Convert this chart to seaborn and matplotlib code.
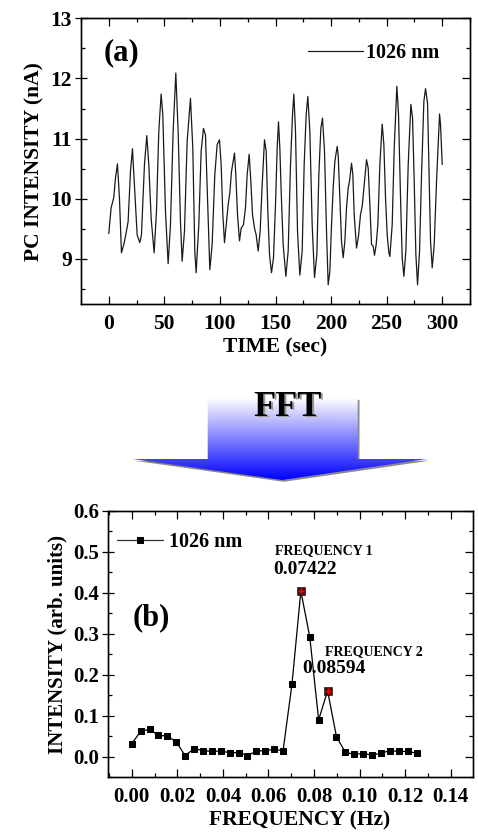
import numpy as np
import pandas as pd
import matplotlib
matplotlib.use("Agg")
import matplotlib.pyplot as plt
import seaborn as sns
from matplotlib.patches import Polygon
from matplotlib.ticker import MultipleLocator, FormatStrFormatter
from matplotlib.colors import LinearSegmentedColormap

# ---------------- data ----------------
time_s = [0.0, 2.1, 4.5, 6.0, 7.8, 9.6, 11.4, 13.5, 15.6, 17.4, 19.5, 21.3, 23.4, 25.5, 27.9,
          29.4, 32.1, 34.2, 36.0, 38.1, 40.8, 42.9, 45.0, 47.1, 48.6, 51.0, 53.4, 55.5, 57.9,
          60.3, 62.4, 64.5, 66.0, 68.1, 70.5, 73.5, 75.6, 77.4, 78.6, 81.0, 83.1, 85.2, 87.0,
          88.8, 90.9, 93.0, 95.4, 97.5, 99.6, 101.1, 102.6, 104.1, 105.9, 107.4, 108.9, 110.4,
          111.9, 113.1, 114.3, 115.8, 117.6, 119.1, 121.2, 123.0, 124.5, 126.3, 127.8, 129.3,
          131.1, 132.6, 134.4, 136.2, 138.0, 140.1, 141.6, 143.1, 144.6, 146.4, 148.2, 150.0,
          151.5, 152.7, 153.9, 155.1, 156.9, 159.3, 161.4, 163.5, 165.3, 166.5, 168.0, 169.8,
          171.9, 174.0, 175.8, 177.6, 179.1, 180.9, 183.0, 185.1, 187.2, 189.0, 190.8, 192.3,
          194.1, 195.9, 197.4, 198.9, 200.4, 201.9, 203.4, 205.5, 206.4, 207.9, 209.4, 210.9,
          212.4, 213.9, 215.4, 216.6, 218.4, 219.6, 220.8, 222.9, 224.7, 226.5, 228.0, 229.8,
          231.9, 233.4, 234.9, 236.4, 237.9, 239.1, 240.6, 242.1, 243.9, 246.0, 247.5, 249.0,
          250.5, 252.0, 252.9, 255.0, 256.8, 259.2, 260.7, 262.5, 264.0, 265.5, 267.3, 269.4,
          271.8, 273.3, 274.8, 276.3, 277.8, 279.6, 281.4, 283.5, 285.0, 286.8, 288.3, 289.5,
          291.0, 292.8, 294.9, 297.6, 298.5, 300.0]
pc_intensity = [9.42, 9.85, 10.02, 10.34, 10.58, 10.01, 9.10, 9.24, 9.43, 9.62, 10.45, 10.83,
                10.12, 9.40, 9.27, 9.40, 10.57, 11.05, 10.57, 9.68, 9.10, 9.79, 11.12, 11.74,
                11.40, 9.79, 8.92, 9.57, 11.12, 12.09, 11.12, 9.62, 8.96, 9.46, 10.95, 11.67,
                10.84, 9.13, 8.77, 9.57, 10.79, 11.17, 11.06, 10.01, 8.82, 9.24, 10.40, 10.90,
                10.98, 10.57, 9.74, 9.27, 9.62, 9.90, 10.10, 10.45, 10.62, 10.76, 10.40, 9.74,
                9.30, 9.51, 9.57, 9.85, 10.40, 10.74, 10.29, 9.74, 9.51, 9.40, 9.13, 9.46,
                10.23, 10.98, 10.79, 9.79, 9.07, 8.77, 9.02, 9.90, 10.84, 11.28, 10.84, 10.12,
                9.24, 8.71, 9.13, 10.57, 11.40, 11.74, 11.12, 9.46, 8.73, 9.13, 10.57, 11.40,
                11.70, 11.12, 9.57, 8.69, 9.07, 10.40, 11.17, 11.34, 10.79, 9.46, 8.57, 8.79,
                9.57, 10.18, 10.62, 10.87, 10.73, 10.01, 9.29, 9.02, 9.29, 9.85, 10.18, 10.29,
                10.59, 10.40, 9.74, 9.18, 9.38, 9.74, 9.87, 10.23, 10.65, 10.51, 9.90, 9.24,
                9.21, 9.06, 9.24, 9.57, 10.57, 11.24, 10.90, 10.01, 9.40, 9.10, 9.04, 9.57,
                10.84, 11.87, 11.40, 10.01, 9.02, 8.71, 9.13, 10.57, 11.57, 11.34, 10.29, 9.07,
                8.57, 9.13, 10.40, 11.62, 11.83, 11.59, 10.29, 9.29, 8.85, 9.24, 10.29, 11.41,
                11.23, 10.57]

freq_hz = [0.0, 0.00391, 0.00781, 0.01172, 0.01563, 0.01953, 0.02344, 0.02734, 0.03125,
           0.03516, 0.03906, 0.04297, 0.04688, 0.05078, 0.05469, 0.05859, 0.0625, 0.06641,
           0.07031, 0.07422, 0.07813, 0.08203, 0.08594, 0.08984, 0.09375, 0.09766, 0.10156,
           0.10547, 0.10938, 0.11328, 0.11719, 0.12109, 0.125]
fft_intensity = [0.032, 0.062, 0.067, 0.052, 0.051, 0.036, 0.003, 0.020, 0.015, 0.013, 0.014,
                 0.010, 0.010, 0.003, 0.014, 0.015, 0.018, 0.015, 0.177, 0.404, 0.292, 0.090,
                 0.161, 0.049, 0.011, 0.006, 0.008, 0.004, 0.009, 0.015, 0.013, 0.013, 0.009]
peak_freqs = [0.07422, 0.08594]
peak_vals = [0.404, 0.161]
peak_labels = ["0.07422", "0.08594"]
series_label = "1026 nm"

# ---------------- style ----------------
sns.set_style("ticks")
plt.rcParams["font.family"] = ["Liberation Serif", "DejaVu Serif"]
plt.rcParams["font.weight"] = "bold"
plt.rcParams["axes.labelweight"] = "bold"
plt.rcParams["axes.linewidth"] = 0.9
plt.rcParams["axes.edgecolor"] = "black"
plt.rcParams["text.color"] = "black"
plt.rcParams["axes.labelcolor"] = "black"
plt.rcParams["xtick.color"] = "black"
plt.rcParams["ytick.color"] = "black"

W, H = 478, 838
fig = plt.figure(figsize=(W / 100, H / 100), dpi=100)

def px_axes(l, t, r, b):
    return fig.add_axes([l / W, 1 - b / H, (r - l) / W, (b - t) / H])

def style_ticks(ax, xmaj, xmin, ymaj, ymin, ylim, size):
    ax.xaxis.set_major_locator(MultipleLocator(xmaj))
    ax.xaxis.set_minor_locator(MultipleLocator(xmin))
    ax.yaxis.set_major_locator(MultipleLocator(ymaj))
    ax.yaxis.set_minor_locator(MultipleLocator(ymin))
    ax.tick_params(axis="x", which="both", direction="in", top=True, bottom=True,
                   colors="black", labelsize=size, pad=7)
    ax.tick_params(axis="x", which="major", length=6, width=0.9)
    ax.tick_params(axis="x", which="minor", length=3, width=0.9)
    ax.tick_params(axis="y", which="both", direction="inout", left=True, right=False,
                   colors="black", labelsize=size, pad=2)
    ax.tick_params(axis="y", which="major", length=9, width=0.9)
    ax.tick_params(axis="y", which="minor", length=0)
    tw = ax.twinx()
    tw.set_ylim(*ylim)
    tw.yaxis.set_major_locator(MultipleLocator(ymaj))
    tw.yaxis.set_minor_locator(MultipleLocator(ymin))
    tw.tick_params(axis="y", which="both", direction="in", labelright=False, colors="black")
    tw.tick_params(axis="y", which="major", length=6, width=0.9)
    tw.tick_params(axis="y", which="minor", length=3, width=0.9)
    tw2 = ax.twinx()
    tw2.set_ylim(*ylim)
    tw2.yaxis.set_ticks_position("left")
    tw2.yaxis.set_major_locator(MultipleLocator(ymaj))
    tw2.yaxis.set_minor_locator(MultipleLocator(ymin))
    tw2.tick_params(axis="y", which="major", length=0, labelleft=False, labelright=False)
    tw2.tick_params(axis="y", which="minor", direction="in", length=3, width=0.9,
                    labelleft=False, labelright=False, colors="black")
    for t in ax.get_xticklabels() + ax.get_yticklabels():
        t.set_fontweight("bold")
        t.set_color("black")

# ---------------- top panel ----------------
ax1 = px_axes(81, 18.3, 470, 304)
df1 = pd.DataFrame({"t": time_s, "v": pc_intensity})
sns.lineplot(data=df1, x="t", y="v", ax=ax1, color="#1a1a1a", linewidth=0.9,
             label=series_label, sort=False)
ax1.set_xlim(-25, 325)
ax1.set_ylim(8.25, 13)
style_ticks(ax1, 50, 25, 1, 0.5, (8.25, 13), 15.5)
ax1.set_xlabel("TIME (sec)", fontsize=15.5, fontweight="bold", labelpad=3, color="black")
ax1.set_ylabel("PC INTENSITY (nA)", fontsize=15.5, fontweight="bold", labelpad=4,
               color="black")
ax1.text(0.057, 0.878, "(a)", transform=ax1.transAxes, fontsize=22, fontweight="bold",
         va="center", ha="left", color="black")
leg1 = ax1.legend(loc="center left", bbox_to_anchor=(0.5835, 0.8776), frameon=False,
                  borderpad=0, borderaxespad=0, handlelength=2.75, handletextpad=0.15,
                  prop={"family": "Liberation Serif", "weight": "bold", "size": 14.5})
for t in leg1.get_texts():
    t.set_color("black")

# ---------------- arrow ----------------
ax3 = px_axes(128, 394, 434, 486)
ax3.set_axis_off()
arrow_pts = [(207.7, 398), (357.7, 398), (357.7, 459), (427, 459), (282, 480),
             (133, 459), (207.7, 459)]
shadow = Polygon([(x + 1.8, y + 1.8) for x, y in arrow_pts], closed=True,
                 facecolor="#8a8a8a", edgecolor="none", zorder=1)
ax3.add_patch(shadow)
clip = Polygon(arrow_pts, closed=True, facecolor="none", edgecolor="none", zorder=2)
ax3.add_patch(clip)
cmap = LinearSegmentedColormap.from_list("wb", ["#ffffff", "#0000ff"])
grad = np.linspace(0, 1, 256).reshape(-1, 1)
im = ax3.imshow(grad, cmap=cmap, extent=[128, 434, 480, 398], origin="upper",
                aspect="auto", zorder=2)
im.set_clip_path(clip)
ax3.set_xlim(128, 434)
ax3.set_ylim(486, 394)
ax3.text(289.5, 408.5, "FFT", fontsize=26, fontweight="bold", color="#9a9a9a",
         ha="center", va="center", zorder=3)
ax3.text(288, 407, "FFT", fontsize=26, fontweight="bold", color="black",
         ha="center", va="center", zorder=4)

# ---------------- bottom panel ----------------
ax2 = px_axes(108.3, 510.7, 473.3, 777.3)
df2 = pd.DataFrame({"f": freq_hz, "i": fft_intensity})
sns.lineplot(data=df2, x="f", y="i", ax=ax2, color="black", linewidth=0.9,
             marker="s", markersize=5, markeredgecolor="black", markerfacecolor="black",
             label=series_label)
dfp = pd.DataFrame({"f": peak_freqs, "i": peak_vals})
sns.scatterplot(data=dfp, x="f", y="i", ax=ax2, marker="s", s=26, color="#4a0d0d",
                edgecolor="black", linewidth=0.4, zorder=5)
sns.scatterplot(data=dfp, x="f", y="i", ax=ax2, marker="+", s=22, color="red",
                linewidth=1.0, zorder=6)
ax2.set_xlim(-0.0103, 0.1499)
ax2.set_ylim(-0.05, 0.6)
style_ticks(ax2, 0.02, 0.01, 0.1, 0.05, (-0.05, 0.6), 15)
ax2.xaxis.set_major_formatter(FormatStrFormatter("%.2f"))
ax2.yaxis.set_major_formatter(FormatStrFormatter("%.1f"))
ax2.set_xlabel("FREQUENCY (Hz)", fontsize=15.5, fontweight="bold", labelpad=1, color="black")
ax2.xaxis.set_label_coords(0.525, -0.125)
ax2.set_ylabel("INTENSITY (arb. units)", fontsize=15, fontweight="bold", labelpad=4,
               color="black")
ax2.text(0.068, 0.598, "(b)", transform=ax2.transAxes, fontsize=22, fontweight="bold",
         va="center", ha="left", color="black")
ax2.text(0.0629, 0.502, "FREQUENCY 1", fontsize=10, fontweight="bold", va="center", ha="left")
ax2.text(0.0620, 0.456, peak_labels[0], fontsize=14, fontweight="bold", va="center", ha="left")
ax2.text(0.0848, 0.256, "FREQUENCY 2", fontsize=10, fontweight="bold", va="center", ha="left")
ax2.text(0.0747, 0.215, peak_labels[1], fontsize=14, fontweight="bold", va="center", ha="left")
leg = ax2.legend(loc="center left", bbox_to_anchor=(0.024, 0.8837), frameon=False,
                 borderpad=0, borderaxespad=0, handlelength=2.3, handletextpad=0.3,
                 numpoints=1,
                 prop={"family": "Liberation Serif", "weight": "bold", "size": 14.5})
for t in leg.get_texts():
    t.set_color("black")
for h in leg.legend_handles:
    try:
        h.set_color("#333333")
        h.set_markerfacecolor("black")
        h.set_markeredgecolor("black")
    except Exception:
        pass

fig.savefig("out.png", dpi=100)
